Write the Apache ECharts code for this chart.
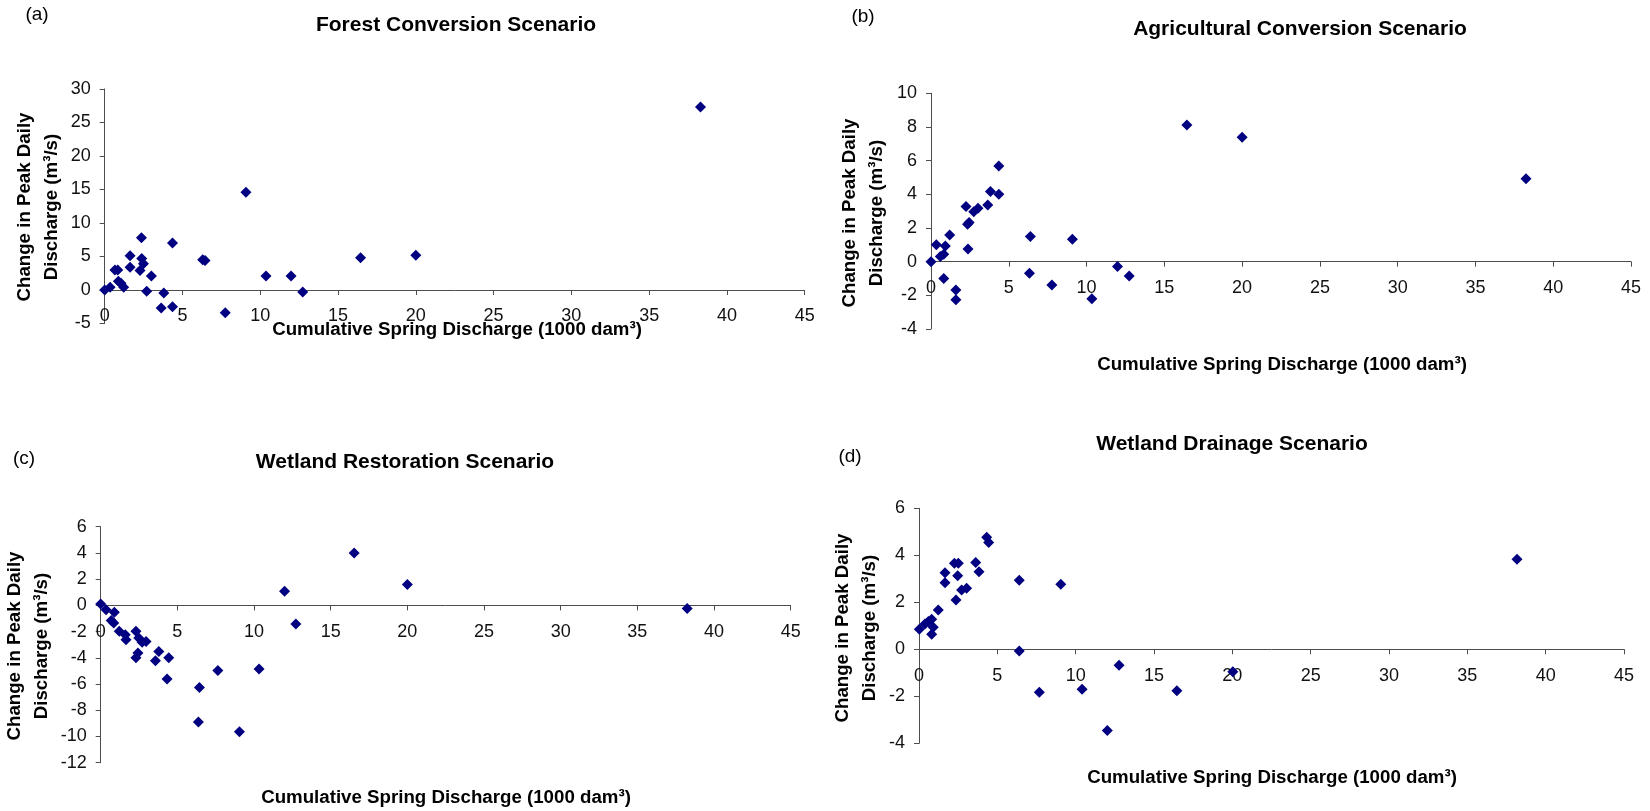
<!DOCTYPE html>
<html>
<head>
<meta charset="utf-8">
<script src="https://cdn.jsdelivr.net/npm/echarts@6/dist/echarts.min.js"></script>
<style>
  html, body { margin: 0; padding: 0; background: #fff; }
  #chart { width: 1650px; height: 811px; }
</style>
</head>
<body>
<div id="chart"></div>
<script>
// ---- Data ----
const panelTitles = ['Forest Conversion Scenario', 'Agricultural Conversion Scenario', 'Wetland Restoration Scenario', 'Wetland Drainage Scenario'];
const panelTags = ['(a)', '(b)', '(c)', '(d)'];
const xAxisTitle = 'Cumulative Spring Discharge (1000 dam³)';
const yAxisTitle = 'Change in Peak Daily\nDischarge (m³/s)';

const forestX = [0, 0.35, 0.66, 0.84, 0.88, 1.05, 1.22, 1.63, 1.63, 2.36, 2.38, 2.49, 2.27, 3.0, 2.7, 4.36, 3.8, 3.63, 4.36, 6.3, 6.45, 7.75, 9.08, 10.37, 11.98, 12.73, 16.45, 20.0, 38.3];
const forestY = [0, 0.4, 3.0, 3.0, 1.3, 1.0, 0.4, 5.1, 3.4, 7.8, 4.7, 3.9, 2.9, 2.1, -0.2, 7.0, -0.45, -2.7, -2.5, 4.5, 4.4, -3.4, 14.6, 2.1, 2.1, -0.3, 4.8, 5.2, 27.3];

const agriX = [0, 0.34, 0.6, 0.82, 0.92, 1.2, 0.82, 1.6, 1.6, 2.25, 2.35, 2.45, 2.38, 2.75, 3.02, 3.65, 3.82, 4.36, 4.36, 6.39, 6.33, 7.77, 9.09, 10.34, 11.99, 12.74, 16.45, 20.0, 38.25];
const agriY = [0, 1.0, 0.3, 0.44, 0.93, 1.58, -1.0, -1.68, -2.27, 3.27, 2.22, 2.32, 0.75, 2.97, 3.17, 3.37, 4.16, 5.68, 4.0, 1.49, -0.69, -1.38, 1.33, -2.21, -0.29, -0.85, 8.12, 7.39, 4.93];

const restoreX = [0, 0.35, 0.89, 0.69, 0.85, 1.21, 1.6, 1.65, 2.3, 2.48, 2.7, 2.96, 2.43, 2.3, 3.79, 3.57, 4.44, 4.33, 6.44, 7.64, 6.37, 9.05, 10.33, 11.99, 12.73, 16.53, 20.0, 38.25];
const restoreY = [0.1, -0.33, -0.53, -1.15, -1.35, -1.98, -2.24, -2.62, -1.98, -2.49, -2.82, -2.75, -3.64, -4.0, -3.51, -4.22, -4.0, -5.62, -6.26, -4.96, -8.9, -9.64, -4.86, 1.07, -1.42, 4.0, 1.6, -0.23];

const drainX = [0.02, 0.38, 0.6, 0.81, 0.91, 0.81, 1.23, 1.66, 1.66, 2.26, 2.51, 2.47, 2.36, 2.72, 3.04, 3.62, 3.83, 4.32, 4.45, 6.4, 6.4, 7.68, 9.05, 10.41, 12.02, 12.77, 16.46, 20.03, 38.17];
const drainY = [0.85, 1.08, 1.18, 1.28, 0.94, 0.64, 1.67, 3.26, 2.83, 3.66, 3.66, 3.13, 2.1, 2.52, 2.6, 3.69, 3.3, 4.77, 4.55, 2.94, -0.07, -1.83, 2.77, -1.7, -3.46, -0.68, -1.76, -0.95, 3.83];

const xMin = 0, xMax = 45, xStep = 5;
const yRanges = [[-5, 30, 5], [-4, 10, 2], [-12, 6, 2], [-4, 6, 2]];
const seriesX = [forestX, agriX, restoreX, drainX];
const seriesY = [forestY, agriY, restoreY, drainY];

// ---- Layout (pixels) ----
const grids = [
  { left: 104.7, top: 89,    width: 700,   height: 234.5 },
  { left: 931,   top: 93.3,  width: 700,   height: 235.7 },
  { left: 100.7, top: 526.7, width: 690,   height: 236 },
  { left: 919,   top: 508.3, width: 705,   height: 235 }
];
const titlePos = [[456, 25], [1300, 29], [405, 462], [1232, 444]];
const tagPos = [[37, 15], [863, 17], [24, 459], [850, 457]];
const yTitlePos = [[38.5, 207], [863.5, 213], [28.5, 646], [856.5, 628]];
const xTitlePos = [[457, 330], [1282, 365], [446, 798], [1272, 778]];

const FONT = '"Liberation Sans", Arial, Helvetica, sans-serif';
const MARK = '#000080';
const AXIS = '#4d4d4d';

const chart = echarts.init(document.getElementById('chart'), null, { renderer: 'canvas' });

const xAxes = [], yAxes = [], series = [], graphics = [];
for (let i = 0; i < 4; i++) {
  const [ymin, ymax, ystep] = yRanges[i];
  // place the whole x axis (line, ticks, labels) at y = 0, as in the original
  const zeroShift = grids[i].height * (0 - ymin) / (ymax - ymin);
  xAxes.push({
    type: 'value', gridIndex: i, min: xMin, max: xMax, interval: xStep,
    position: 'bottom', offset: -zeroShift,
    axisLine: { show: true, onZero: false, lineStyle: { color: AXIS, width: 1 } },
    axisTick: { show: true, inside: false, length: 5, lineStyle: { color: AXIS } },
    axisLabel: { show: true, fontSize: 18, fontFamily: FONT, color: '#111', margin: 17.5 },
    splitLine: { show: false }
  });
  yAxes.push({
    type: 'value', gridIndex: i, min: ymin, max: ymax, interval: ystep,
    axisLine: { show: true, onZero: false, lineStyle: { color: AXIS, width: 1 } },
    axisTick: { show: true, inside: false, length: 5, lineStyle: { color: AXIS } },
    axisLabel: { show: true, fontSize: 18, fontFamily: FONT, color: '#111', margin: 14 },
    splitLine: { show: false }
  });
  series.push({
    type: 'scatter', xAxisIndex: i, yAxisIndex: i,
    symbol: 'diamond', symbolSize: 11,
    itemStyle: { color: MARK, opacity: 1 },
    emphasis: { disabled: true },
    data: seriesX[i].map((x, k) => [x, seriesY[i][k]])
  });
  graphics.push({
    type: 'text', x: titlePos[i][0], y: titlePos[i][1],
    style: { text: panelTitles[i], font: 'bold 21px ' + FONT, fill: '#000', align: 'center', verticalAlign: 'middle', textAlign: 'center', textVerticalAlign: 'middle' }
  });
  graphics.push({
    type: 'text', x: tagPos[i][0], y: tagPos[i][1],
    style: { text: panelTags[i], font: '19px ' + FONT, fill: '#000', align: 'center', verticalAlign: 'middle', textAlign: 'center', textVerticalAlign: 'middle' }
  });
  graphics.push({
    type: 'text', x: yTitlePos[i][0], y: yTitlePos[i][1], rotation: Math.PI / 2,
    style: { text: yAxisTitle, font: 'bold 18.7px ' + FONT, lineHeight: 27, fill: '#000', align: 'center', verticalAlign: 'middle', textAlign: 'center', textVerticalAlign: 'middle' }
  });
  graphics.push({
    type: 'text', x: xTitlePos[i][0], y: xTitlePos[i][1],
    style: { text: xAxisTitle, font: 'bold 18.7px ' + FONT, fill: '#000', align: 'center', verticalAlign: 'middle', textAlign: 'center', textVerticalAlign: 'middle' }
  });
}

chart.setOption({
  animation: false,
  backgroundColor: '#fff',
  grid: grids.map(g => Object.assign({ containLabel: false }, g)),
  xAxis: xAxes,
  yAxis: yAxes,
  series: series,
  graphic: graphics
});
</script>
</body>
</html>
